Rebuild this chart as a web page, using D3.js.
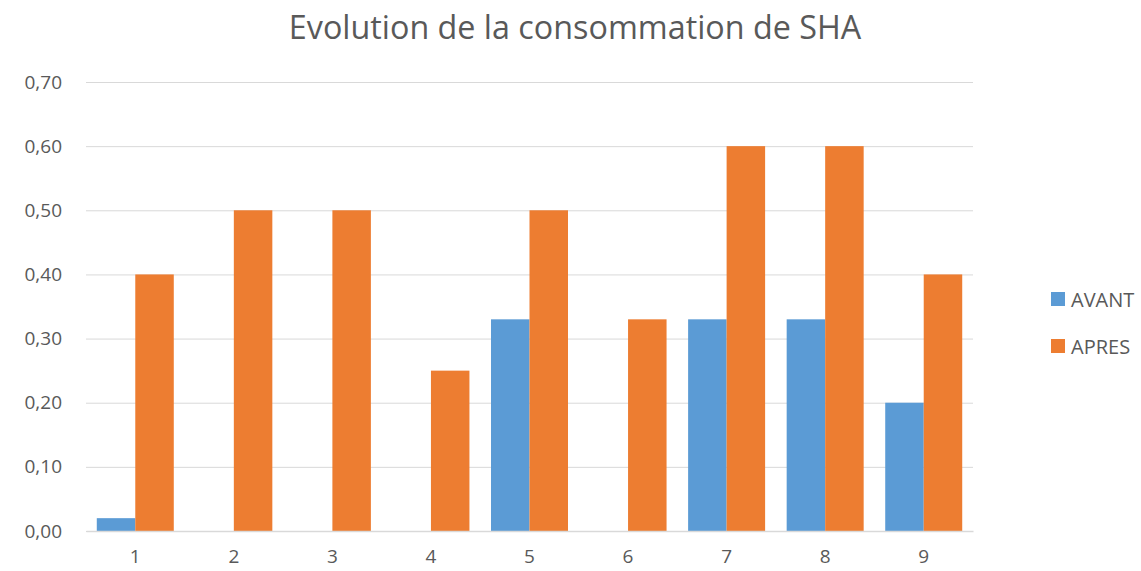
<!DOCTYPE html>
<html>
<head>
<meta charset="utf-8">
<script src="https://cdn.jsdelivr.net/npm/d3@7"></script>
<style>
  body { margin: 0; background: #fff; }
  text { font-family: "Open Sans", "Noto Sans", sans-serif; fill: #595959; }
</style>
</head>
<body>
<script>
//chart data
var categories = ["1", "2", "3", "4", "5", "6", "7", "8", "9"];
var seriesNames = ["AVANT", "APRES"];
var avant = [0.02, 0, 0, 0, 0.33, 0, 0.33, 0.33, 0.20];
var apres = [0.40, 0.50, 0.50, 0.25, 0.50, 0.33, 0.60, 0.60, 0.40];
var yTicks = [0, 0.1, 0.2, 0.3, 0.4, 0.5, 0.6, 0.7];
var colors = ["#5b9bd5", "#ed7d31"];

var width = 1141, height = 571;
var plot = { left: 86, right: 973, top: 82, bottom: 531 };

var svg = d3.select("body").append("svg")
    .attr("width", width)
    .attr("height", height);

//title
svg.append("text")
    .attr("x", 575)
    .attr("y", 39)
    .attr("text-anchor", "middle")
    .style("font-size", "32.3px")
    .text("Evolution de la consommation de SHA");

//scales
var x = d3.scaleBand()
    .domain(categories)
    .range([plot.left, plot.right]);

var xInner = d3.scaleBand()
    .domain(seriesNames)
    .range([0, x.bandwidth()])
    .paddingOuter(0.28)
    .paddingInner(0);

var y = d3.scaleLinear()
    .domain([0, 0.7])
    .range([plot.bottom, plot.top]);

var fmt = function(d){ return d3.format(".2f")(d).replace(".", ","); };

//gridlines + y labels
var yAxis = svg.append("g")
    .attr("transform", "translate(" + plot.left + ",0)")
    .call(d3.axisLeft(y).tickValues(yTicks).tickSize(-(plot.right - plot.left)).tickFormat(fmt).tickPadding(24));
yAxis.select(".domain").remove();
yAxis.selectAll("line").attr("stroke", "#d9d9d9").attr("stroke-width", 1);
yAxis.selectAll("text").style("font-size", "19px").attr("fill", "#595959");

//bars
var data = categories.map(function(c, i){
    return { cat: c, values: [
        { key: "AVANT", value: avant[i] },
        { key: "APRES", value: apres[i] }
    ]};
});

var groups = svg.selectAll(".grp")
    .data(data)
    .enter()
    .append("g")
    .attr("class", "grp")
    .attr("transform", function(d){ return "translate(" + x(d.cat) + ",0)"; });

groups.selectAll("rect")
    .data(function(d){ return d.values; })
    .enter()
    .append("rect")
    .attr("x", function(d){ return xInner(d.key); })
    .attr("y", function(d){ return y(d.value); })
    .attr("width", xInner.bandwidth())
    .attr("height", function(d){ return y(0) - y(d.value); })
    .attr("fill", function(d, i){ return colors[i]; });

//x axis
var xAxis = svg.append("g")
    .attr("transform", "translate(0," + plot.bottom + ")")
    .call(d3.axisBottom(x).tickSize(0).tickPadding(19));
xAxis.select(".domain").attr("stroke", "#d9d9d9").attr("stroke-width", 1.5);
xAxis.selectAll("text").style("font-size", "19px").attr("fill", "#595959");

//legend
var legend = svg.selectAll(".legend")
    .data(seriesNames)
    .enter()
    .append("g")
    .attr("class", "legend")
    .attr("transform", function(d, i){ return "translate(1051," + (292 + i * 47) + ")"; });

legend.append("rect")
    .attr("width", 14)
    .attr("height", 14)
    .attr("fill", function(d, i){ return colors[i]; });

legend.append("text")
    .attr("x", 20)
    .attr("y", 15)
    .style("font-size", "20px")
    .text(function(d){ return d; });
</script>
</body>
</html>
